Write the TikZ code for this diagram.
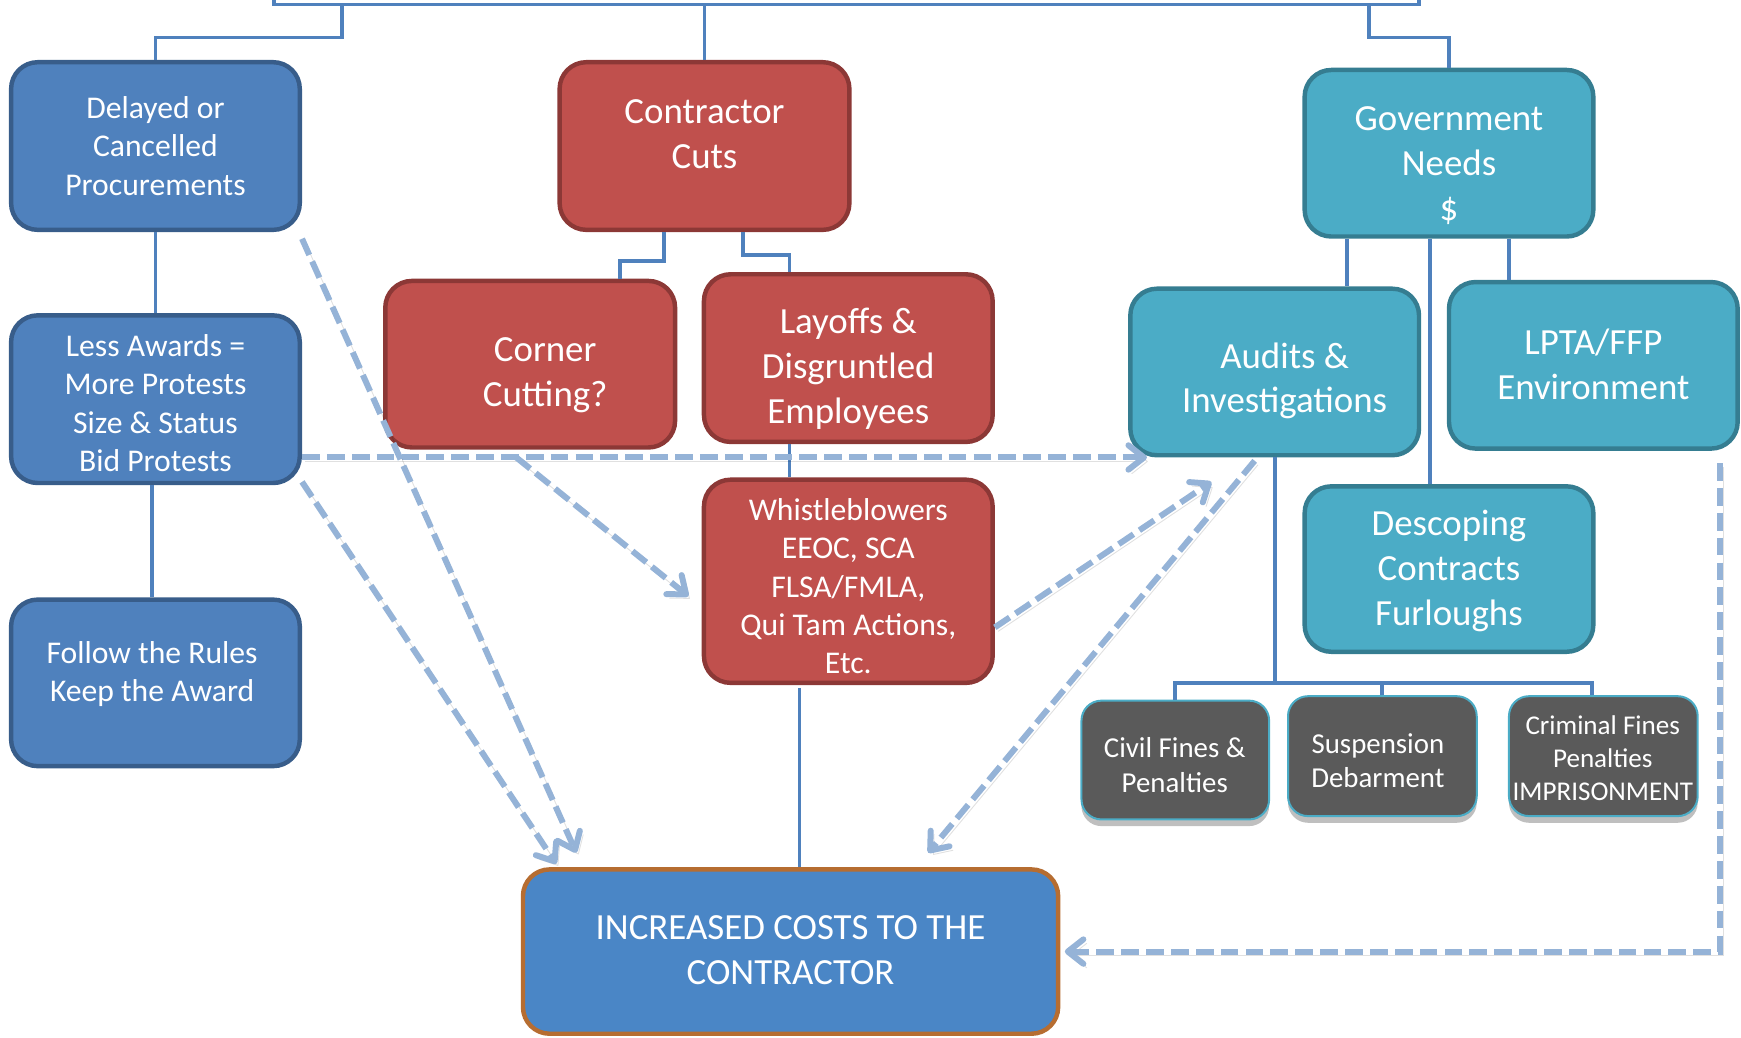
\documentclass[tikz,border=0pt]{standalone}
\usepackage{fontspec}
\setmainfont{Carlito}
\usetikzlibrary{arrows.meta,shadows}
\definecolor{bluefill}{HTML}{4F81BD}
\definecolor{blueedge}{HTML}{385D8A}
\definecolor{redfill}{HTML}{C0504D}
\definecolor{rededge}{HTML}{8C3836}
\definecolor{tealfill}{HTML}{4BACC6}
\definecolor{tealedge}{HTML}{357D91}
\definecolor{grayfill}{HTML}{5A5A5A}
\definecolor{incfill}{HTML}{4A86C6}
\definecolor{incedge}{HTML}{B66D31}
\definecolor{connblue}{HTML}{4F81BD}
\definecolor{dashblue}{HTML}{95B3D7}
\begin{document}
\begin{tikzpicture}[x=0.5pt,y=-0.5pt,
  box/.style={rounded corners=12pt, line width=2pt, inner sep=0pt},
  bluebox/.style={box, fill=bluefill, draw=blueedge},
  redbox/.style={box, fill=redfill, draw=rededge},
  tealbox/.style={box, fill=tealfill, draw=tealedge},
  incbox/.style={box, fill=incfill, draw=incedge},
  graybox/.style={rounded corners=9pt, line width=0.9pt, inner sep=0pt, fill=grayfill, draw=tealfill,
    drop shadow={shadow xshift=0pt, shadow yshift=-3pt, fill=black, opacity=0.25}},
  txtM/.style={text=white, align=center, inner sep=0pt, font=\fontsize{14.25}{17.25}\selectfont},
  txtL/.style={text=white, align=center, inner sep=0pt, font=\fontsize{16.6}{20.2}\selectfont},
  txtS/.style={text=white, align=center, inner sep=0pt, font=\fontsize{13}{15.5}\selectfont},
  txtXS/.style={text=white, align=center, inner sep=0pt, font=\fontsize{12.2}{14.8}\selectfont},
  conn/.style={draw=connblue, line width=1.75pt},
  dasharr/.style={draw=dashblue, line width=2.7pt, dash pattern=on 8pt off 3.2pt,
    -{Straight Barb[length=7pt,width=11pt,round]},
    preaction={draw=black, opacity=0.12, transform canvas={xshift=1.5pt,yshift=-1.8pt}}},
]
\useasboundingbox (0,0) rectangle (1568,934);

% root box (cut off above the picture)
\node[draw=connblue, line width=1.75pt, minimum width=515.5pt, minimum height=44pt, inner sep=0pt] (root) at (762.5,-40) {};

% boxes
\node[bluebox, minimum width=130pt, minimum height=75.5pt] (del) at (140,131.5) {};
\node[txtM] (del-t) at (140,131.5) {Delayed or\\Cancelled\\Procurements};
\node[bluebox, minimum width=130pt, minimum height=75.5pt] (less) at (140,359.5) {};
\node[txtM] (less-t) at (140,363) {Less Awards =\\More Protests\\Size \& Status\\Bid Protests};
\node[bluebox, minimum width=130pt, minimum height=75pt] (follow) at (140,615) {};
\node[txtM] (follow-t) at (137,607) {Follow the Rules\\Keep the Award};

\node[redbox, minimum width=130.5pt, minimum height=75.5pt] (cuts) at (634.5,131.5) {};
\node[txtL] (cuts-t) at (634.5,121) {Contractor\\Cuts};
\node[redbox, minimum width=130.5pt, minimum height=75pt] (corner) at (477.5,328) {};
\node[txtL] (corner-t) at (491,338) {Corner\\Cutting?};
\node[redbox, minimum width=130pt, minimum height=75.5pt] (layoffs) at (764,322.5) {};
\node[txtL] (layoffs-t) at (764,332) {Layoffs \&\\Disgruntled\\Employees};
\node[redbox, minimum width=130pt, minimum height=91.5pt] (whistle) at (764,523.5) {};
\node[txtM] (whistle-t) at (764,528) {Whistleblowers\\EEOC, SCA\\FLSA/FMLA,\\Qui Tam Actions,\\Etc.};

\node[incbox, minimum width=241pt, minimum height=74pt] (incr) at (712,857) {};
\node[txtL] (incr-t) at (712,856) {INCREASED COSTS TO THE\\CONTRACTOR};

\node[tealbox, minimum width=130pt, minimum height=75pt] (gov) at (1305,138) {};
\node[txtL] (gov-t) at (1305,149) {Government\\Needs\\\$};
\node[tealbox, minimum width=130pt, minimum height=75pt] (audits) at (1148,335) {};
\node[txtL] (audits-t) at (1157,343) {Audits \&\\Investigations};
\node[tealbox, minimum width=130pt, minimum height=75pt] (lpta) at (1435,329) {};
\node[txtL] (lpta-t) at (1435,328) {LPTA/FFP\\Environment};
\node[tealbox, minimum width=130pt, minimum height=74.5pt] (desc) at (1305,512.5) {};
\node[txtL] (desc-t) at (1305,514) {Descoping\\Contracts\\Furloughs};

\node[graybox, minimum width=84.5pt, minimum height=53.5pt] (civil) at (1058.5,684.5) {};
\node[txtS] (civil-t) at (1058,689) {Civil Fines \&\\Penalties};
\node[graybox, minimum width=85pt, minimum height=54pt] (susp) at (1245,681) {};
\node[txtS] (susp-t) at (1241,685) {Suspension\\Debarment};
\node[graybox, minimum width=85pt, minimum height=54pt] (crim) at (1444,681) {};
\node[txtXS] (crim-t) at (1443.5,683) {Criminal Fines\\Penalties\\IMPRISONMENT};

% solid connectors
\draw[conn] ([xshift=-227.25pt]root.south) -- ++(0,28) -| (del.north);
\draw[conn] (root.south -| cuts.north) -- (cuts.north);
\draw[conn] ([xshift=235.25pt]root.south) -- ++(0,28) -| (gov.north);
\draw[conn] (del.south) -- (less.north);
\draw[conn] ([xshift=-1.5pt]less.south) -- ([xshift=-1.5pt]follow.north);
\draw[conn] ([xshift=-18.25pt]cuts.south) -- ++(0,26) -| ([xshift=40.25pt]corner.north);
\draw[conn] ([xshift=17.25pt]cuts.south) -- ++(0,21) -| ([xshift=-26.5pt]layoffs.north);
\draw[conn] ([xshift=-26.5pt]layoffs.south) -- ([xshift=-26.5pt]whistle.north);
\coordinate (w1) at ([xshift=-22pt,yshift=-1.5pt]whistle.south);
\draw[conn] (w1) -- (w1 |- incr.north);
\coordinate (g1) at ([xshift=-46pt]gov.south);
\draw[conn] (g1) -- (g1 |- audits.north);
\coordinate (g2) at ([xshift=-8.5pt]gov.south);
\draw[conn] (g2) -- (g2 |- desc.north);
\coordinate (g3) at ([xshift=27pt]gov.south);
\draw[conn] (g3) -- (g3 |- lpta.north);
\coordinate (hub) at ([yshift=-101.5pt]audits.south);
\draw[conn] (audits.south) -- (hub);
\coordinate (c3) at ([xshift=-5pt]crim.north);
\draw[conn] (civil.north) |- (hub) -| (c3);
\draw[conn] (susp.north) -- (susp.north |- hub);

% dashed arrows
\coordinate (a1) at ([yshift=-26.25pt]less.east);
\coordinate (a2) at (a1 -| audits.west);
\draw[dasharr] (a1) -- ([xshift=8.5pt]a2);
\draw[dasharr] ([yshift=-3pt]del.south east) -- ([xshift=25pt,yshift=6.5pt]incr.north west);
\draw[dasharr] ([yshift=1.5pt]less.south east) -- ([xshift=16pt,yshift=1.5pt]incr.north west);
\draw[dasharr] ([xshift=96.5pt]a1) -- ([xshift=-6pt,yshift=-6.75pt]whistle.west);
\draw[dasharr] ([yshift=-20.75pt]whistle.east) -- ([xshift=37.5pt,yshift=-11pt]audits.south west);
\draw[dasharr] ([xshift=-9pt,yshift=-1.5pt]audits.south) -- ([xshift=62pt,yshift=6.5pt]incr.north);
\draw[dasharr] ([xshift=-9pt,yshift=-5.5pt]lpta.south east) |- ([xshift=2pt]incr.east);
\end{tikzpicture}
\end{document}
